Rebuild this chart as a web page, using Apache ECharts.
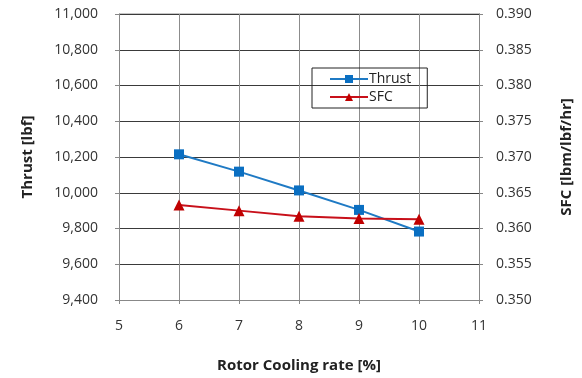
<!DOCTYPE html>
<html>
<head>
<meta charset="utf-8">
<script src="https://cdn.jsdelivr.net/npm/echarts@6/dist/echarts.min.js"></script>
<style>html,body{margin:0;padding:0;background:#fff}#c{width:582px;height:378px}</style>
</head>
<body>
<div id="c"></div>
<script>
var coolingRate = [6, 7, 8, 9, 10];
var thrust = [10215, 10118, 10013, 9904, 9783];
var sfc = [0.3633, 0.3625, 0.3617, 0.3614, 0.3613];
var xTicks = [5, 6, 7, 8, 9, 10, 11];

var font = '"Open Sans", sans-serif';
var chart = echarts.init(document.getElementById('c'));
chart.setOption({
  animation: false,
  backgroundColor: '#fff',
  grid: {left: 119, right: 102, top: 14, bottom: 76, show: false},
  legend: {
    orient: 'vertical', left: 312, top: 68,
    padding: [4, 16, 4, 17],
    borderColor: '#222', borderWidth: 1,
    itemWidth: 38, itemHeight: 10, itemGap: 4,
    textStyle: {fontFamily: font, fontSize: 14, color: '#222', padding: [0,0,0,-4]},
    data: ['Thrust', 'SFC']
  },
  xAxis: {
    type: 'value', min: xTicks[0], max: xTicks[xTicks.length-1], interval: 1,
    name: 'Rotor Cooling rate [%]', nameLocation: 'middle', nameGap: 58,
    nameTextStyle: {fontFamily: font, fontSize: 15, fontWeight: 'bold', color: '#222'},
    axisLine: {show: true, lineStyle: {color: '#888', width: 1}},
    axisTick: {show: true, length: 4, lineStyle: {color: '#888'}},
    axisLabel: {margin: 19, fontFamily: font, fontSize: 14, color: '#333'},
    splitLine: {show: true, lineStyle: {color: '#8c8c8c', width: 1}}
  },
  yAxis: [{
    type: 'value', min: 9400, max: 11000, interval: 200,
    name: 'Thrust [lbf]', nameLocation: 'middle', nameGap: 84, nameRotate: 90,
    nameTextStyle: {fontFamily: font, fontSize: 15, fontWeight: 'bold', color: '#222'},
    axisLine: {show: true, lineStyle: {color: '#888', width: 1}},
    axisTick: {show: true, length: 4, lineStyle: {color: '#888'}},
    axisLabel: {margin: 21, fontFamily: font, fontSize: 14, color: '#333',
      formatter: function(v){ return v.toLocaleString('en-US'); }},
    splitLine: {show: true, lineStyle: {color: '#3a3a3a', width: 1}}
  }, {
    type: 'value', min: 0.35, max: 0.39, interval: 0.005, position: 'right',
    name: 'SFC [lbm/lbf/hr]', nameLocation: 'middle', nameGap: 80, nameRotate: 90,
    nameTextStyle: {fontFamily: font, fontSize: 15, fontWeight: 'bold', color: '#222'},
    axisLine: {show: true, lineStyle: {color: '#888', width: 1}},
    axisTick: {show: true, length: 4, lineStyle: {color: '#888'}},
    axisLabel: {margin: 17, fontFamily: font, fontSize: 14, color: '#333',
      formatter: function(v){ return v.toFixed(3); }},
    splitLine: {show: false}
  }],
  graphic: [{
    type: 'line', shape: {x1: 119, y1: 14, x2: 480, y2: 14},
    style: {stroke: '#8c8c8c', lineWidth: 1}, silent: true
  }],
  series: [{
    name: 'Thrust', type: 'line', yAxisIndex: 0,
    data: coolingRate.map(function(x,i){ return [x, thrust[i]]; }),
    symbol: 'rect', symbolSize: 10,
    lineStyle: {color: '#1f7ac4', width: 2},
    itemStyle: {color: '#0a6fc2'}, z: 3
  }, {
    name: 'SFC', type: 'line', yAxisIndex: 1,
    data: coolingRate.map(function(x,i){ return [x, sfc[i]]; }),
    symbol: 'triangle', symbolSize: 11,
    lineStyle: {color: '#c8101a', width: 2},
    itemStyle: {color: '#c00000'}, z: 4
  }]
});
</script>
</body>
</html>
